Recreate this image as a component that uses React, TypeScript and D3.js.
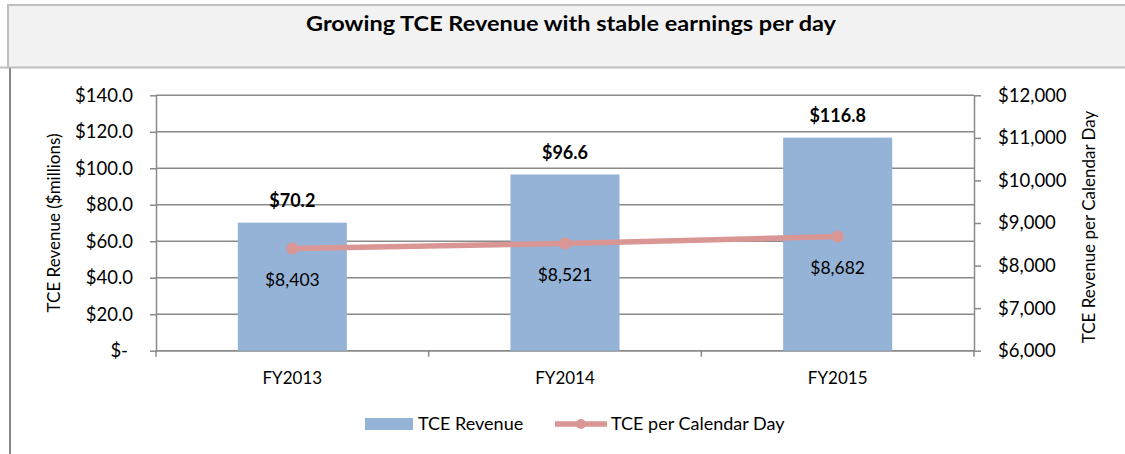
import { useEffect, useRef } from 'react';
import * as d3 from 'd3';

const categories = ['FY2013', 'FY2014', 'FY2015'];
const revenue = [70.2, 96.6, 116.8];
const perDay = [8403, 8521, 8682];
const leftTicks = [0, 20, 40, 60, 80, 100, 120, 140];
const rightTicks = [6000, 7000, 8000, 9000, 10000, 11000, 12000];

const title = 'Growing TCE Revenue with stable earnings per day';
const leftTitle = 'TCE Revenue ($millions)';
const rightTitle = 'TCE Revenue per Calendar Day';
const barName = 'TCE Revenue';
const lineName = 'TCE per Calendar Day';

const FONT = 'Lato, "Open Sans", sans-serif';
const BAR = '#95b3d7';
const LINE = '#d99694';
const GRID = '#8a8a8a';

export default function App() {
  const ref = useRef<SVGSVGElement | null>(null);

  useEffect(() => {
    if (!ref.current) return;
    const svg = d3.select(ref.current);
    svg.selectAll('*').remove();

    const W = 1125;
    const plot = { left: 156, right: 974, top: 95.3, bottom: 350.7 };

    // title box and outer frame
    svg.append('rect')
      .attr('x', 8).attr('y', 5)
      .attr('width', W).attr('height', 62.5)
      .attr('fill', '#f2f2f2')
      .attr('stroke', '#bfbfbf').attr('stroke-width', 2);
    svg.append('line')
      .attr('x1', 0).attr('x2', 8).attr('y1', 67.5).attr('y2', 67.5)
      .attr('stroke', '#bfbfbf').attr('stroke-width', 2);
    svg.append('line')
      .attr('x1', 10).attr('x2', 10).attr('y1', 68).attr('y2', 454)
      .attr('stroke', '#888').attr('stroke-width', 2);

    svg.append('text')
      .attr('x', 571).attr('y', 30.5)
      .attr('text-anchor', 'middle')
      .attr('textLength', 530)
      .attr('lengthAdjust', 'spacingAndGlyphs')
      .style('font-weight', 'bold').style('font-size', '21px')
      .text(title);

    const x = d3.scaleBand<string>()
      .domain(categories)
      .range([plot.left, plot.right])
      .paddingInner(0.6).paddingOuter(0.3);
    const step = x.step();
    const yL = d3.scaleLinear().domain([0, 140]).range([plot.bottom, plot.top]);
    const yR = d3.scaleLinear().domain([6000, 12000]).range([plot.bottom, plot.top]);

    // gridlines
    svg.append('g')
      .selectAll('line')
      .data(leftTicks)
      .enter().append('line')
      .attr('x1', plot.left).attr('x2', plot.right)
      .attr('y1', d => yL(d)).attr('y2', d => yL(d))
      .attr('stroke', GRID).attr('stroke-width', 1.5);

    // left axis
    const gl = svg.append('g')
      .attr('transform', `translate(${plot.left},0)`)
      .call(d3.axisLeft(yL).tickValues(leftTicks).tickSize(6).tickSizeOuter(0).tickPadding(17)
        .tickFormat(d => (+d === 0 ? '$-' : `$${(+d).toFixed(1)}`)));
    gl.selectAll('text').attr('dx', d => (+d === 0 ? -5 : 0));

    // right axis
    svg.append('g')
      .attr('transform', `translate(${plot.right},0)`)
      .call(d3.axisRight(yR).tickValues(rightTicks).tickSize(7).tickSizeOuter(0).tickPadding(17)
        .tickFormat(d => `$${d3.format(',')(+d)}`));

    // bottom axis, ticks between categories
    svg.append('line')
      .attr('x1', plot.left).attr('x2', plot.right)
      .attr('y1', plot.bottom).attr('y2', plot.bottom)
      .attr('stroke', GRID).attr('stroke-width', 1.5);
    svg.append('g')
      .selectAll('line')
      .data(d3.range(categories.length + 1))
      .enter().append('line')
      .attr('x1', i => plot.left + i * step).attr('x2', i => plot.left + i * step)
      .attr('y1', plot.bottom).attr('y2', plot.bottom + 6)
      .attr('stroke', GRID).attr('stroke-width', 1.5);
    svg.append('g')
      .selectAll('text')
      .data(categories)
      .enter().append('text')
      .attr('x', d => (x(d) as number) + x.bandwidth() / 2)
      .attr('y', 378)
      .attr('dy', '0.35em')
      .attr('text-anchor', 'middle')
      .style('font-size', '17px')
      .text(d => d);

    svg.selectAll('.domain').attr('stroke', GRID).attr('stroke-width', 1.5);
    svg.selectAll('.tick line').attr('stroke', GRID).attr('stroke-width', 1.5);
    svg.selectAll('.tick text').style('font-size', '18.5px');

    // bars
    svg.append('g')
      .selectAll('rect')
      .data(revenue)
      .enter().append('rect')
      .attr('x', (_, i) => x(categories[i]) as number)
      .attr('width', x.bandwidth())
      .attr('y', d => yL(d))
      .attr('height', d => plot.bottom - yL(d))
      .attr('fill', BAR);

    svg.append('g')
      .selectAll('text')
      .data(revenue)
      .enter().append('text')
      .attr('x', (_, i) => (x(categories[i]) as number) + x.bandwidth() / 2)
      .attr('y', d => yL(d) - 21.5)
      .attr('dy', '0.35em')
      .attr('text-anchor', 'middle')
      .style('font-weight', 'bold').style('font-size', '18px')
      .text(d => `$${d.toFixed(1)}`);

    // line
    const pts = perDay.map((v, i) => [(x(categories[i]) as number) + x.bandwidth() / 2, yR(v)] as [number, number]);
    svg.append('path')
      .datum(pts)
      .attr('fill', 'none')
      .attr('stroke', LINE).attr('stroke-width', 5.5)
      .attr('stroke-linecap', 'round')
      .attr('d', d3.line());
    svg.append('g')
      .selectAll('circle')
      .data(pts)
      .enter().append('circle')
      .attr('cx', d => d[0]).attr('cy', d => d[1]).attr('r', 6)
      .attr('fill', LINE);
    svg.append('g')
      .selectAll('text')
      .data(perDay)
      .enter().append('text')
      .attr('x', (_, i) => pts[i][0])
      .attr('y', (_, i) => pts[i][1] + 31)
      .attr('dy', '0.35em')
      .attr('text-anchor', 'middle')
      .style('font-size', '17.5px')
      .text(d => `$${d3.format(',')(d)}`);

    // axis titles
    svg.append('text')
      .attr('transform', `translate(54,223) rotate(-90)`)
      .attr('dy', '0.35em')
      .attr('text-anchor', 'middle')
      .style('font-size', '17px')
      .text(leftTitle);
    svg.append('text')
      .attr('transform', `translate(1089,227) rotate(-90)`)
      .attr('dy', '0.35em')
      .attr('text-anchor', 'middle')
      .style('font-size', '17px')
      .text(rightTitle);

    // legend
    const lg = svg.append('g');
    lg.append('rect')
      .attr('x', 365).attr('y', 418).attr('width', 48).attr('height', 12)
      .attr('fill', BAR);
    lg.append('text').attr('x', 418).attr('y', 424).attr('dy', '0.35em')
      .style('font-size', '18px').text(barName);
    lg.append('line')
      .attr('x1', 555).attr('x2', 607).attr('y1', 424).attr('y2', 424)
      .attr('stroke', LINE).attr('stroke-width', 5.5);
    lg.append('circle').attr('cx', 581).attr('cy', 424).attr('r', 5).attr('fill', LINE);
    lg.append('text').attr('x', 611).attr('y', 424).attr('dy', '0.35em')
      .style('font-size', '18px').text(lineName);

    svg.selectAll('text')
      .attr('fill', '#000')
      .style('font-family', FONT);
  }, []);

  return (
    <svg
      ref={ref}
      width={1125}
      height={454}
      style={{ position: 'absolute', left: 0, top: 0, background: '#fff' }}
    />
  );
}
